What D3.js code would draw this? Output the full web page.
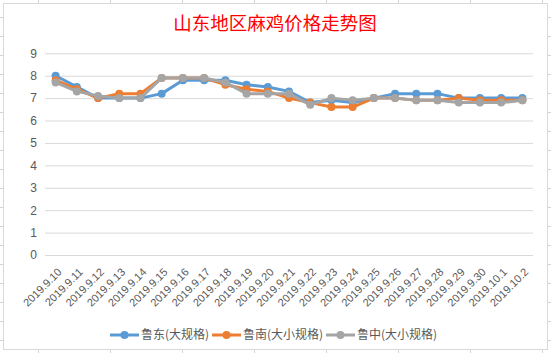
<!DOCTYPE html>
<html>
<head>
<meta charset="utf-8">
<script src="https://cdn.jsdelivr.net/npm/d3@7"></script>
<style>
  body { margin: 0; background: #fff; }
  svg { display: block; font-family: "Liberation Sans", Arial, sans-serif; }
</style>
</head>
<body>
<div id="chart"></div>
<script>
// chart data
const dates = ["2019.9.10","2019.9.11","2019.9.12","2019.9.13","2019.9.14","2019.9.15","2019.9.16",
  "2019.9.17","2019.9.18","2019.9.19","2019.9.20","2019.9.21","2019.9.22","2019.9.23","2019.9.24",
  "2019.9.25","2019.9.26","2019.9.27","2019.9.28","2019.9.29","2019.9.30","2019.10.1","2019.10.2"];
const ludong   = [8.0,7.5,7.0,7.0,7.0,7.2,7.8,7.8,7.8,7.6,7.5,7.3,6.8,6.9,6.8,7.0,7.2,7.2,7.2,7.0,7.0,7.0,7.0];
const lunan    = [7.8,7.4,7.0,7.2,7.2,7.9,7.9,7.9,7.6,7.4,7.3,7.0,6.8,6.6,6.6,7.0,7.0,6.9,6.9,7.0,6.9,6.9,6.9];
const luzhong  = [7.7,7.3,7.1,7.0,7.0,7.9,7.9,7.9,7.7,7.2,7.2,7.2,6.7,7.0,6.9,7.0,7.0,6.9,6.9,6.8,6.8,6.8,6.9];
const seriesNames = ["鲁东(大规格)", "鲁南(大小规格)", "鲁中(大小规格)"];
const seriesColors = ["#5B9BD5", "#ED7D31", "#A5A5A5"];
const yTicks = [0,1,2,3,4,5,6,7,8,9];
const title = "山东地区麻鸡价格走势图";

const W = 551, H = 353;
const svg = d3.select("#chart").append("svg").attr("width", W).attr("height", H);

// spreadsheet cells behind the chart object
const sheet = svg.append("g").attr("stroke", "#D4D4D4").attr("stroke-width", 1);
d3.range(38, W, 72).forEach(x => {
  sheet.append("line").attr("x1", x + 0.5).attr("x2", x + 0.5).attr("y1", 0).attr("y2", H);
});
d3.range(17, H, 19).forEach(y => {
  sheet.append("line").attr("x1", 0).attr("x2", W).attr("y1", y + 0.5).attr("y2", y + 0.5);
});

// chart area
svg.append("rect")
  .attr("x", 3.5).attr("y", 3.5)
  .attr("width", 544).attr("height", 346)
  .attr("fill", "#fff").attr("stroke", "#D9D9D9");

svg.append("text")
  .attr("x", 275).attr("y", 30)
  .attr("text-anchor", "middle")
  .attr("fill", "#FF0000")
  .style("font-family", "'Noto Sans CJK SC', sans-serif")
  .style("font-size", "18.5px")
  .text(title);

const plot = { left: 45, right: 533, top: 53.3, bottom: 255 };

const x = d3.scaleBand().domain(dates).range([plot.left, plot.right]);
const y = d3.scaleLinear().domain([0, 9]).range([plot.bottom, plot.top]);
const cx = d => x(d) + x.bandwidth() / 2;

// gridlines + y labels
const yAxis = d3.axisLeft(y).tickValues(yTicks).tickSize(-(plot.right - plot.left)).tickPadding(9);
const gy = svg.append("g").attr("transform", `translate(${plot.left},0)`).call(yAxis);
gy.select(".domain").remove();
gy.selectAll(".tick line").attr("stroke", "#D9D9D9");
gy.selectAll(".tick text")
  .attr("fill", "#595959")
  .style("font-size", "12px")
  .attr("x", -8);

// x labels (rotated)
const xAxis = d3.axisBottom(x).tickSize(0).tickPadding(0);
const gx = svg.append("g").attr("transform", `translate(0,${plot.bottom})`).call(xAxis);
gx.select(".domain").remove();
gx.selectAll(".tick text")
  .attr("fill", "#595959")
  .style("font-size", "11px")
  .attr("text-anchor", "end")
  .attr("dy", "0.35em")
  .attr("transform", "translate(4,15) rotate(-45)");

// lines
const allSeries = [ludong, lunan, luzhong];
const line = d3.line().x((v, i) => cx(dates[i])).y(v => y(v));

allSeries.forEach((vals, s) => {
  const g = svg.append("g");
  g.append("path")
    .datum(vals)
    .attr("d", line)
    .attr("fill", "none")
    .attr("stroke", seriesColors[s])
    .attr("stroke-width", 3)
    .attr("stroke-linejoin", "round");
  g.selectAll("circle")
    .data(vals)
    .enter()
    .append("circle")
    .attr("cx", (v, i) => cx(dates[i]))
    .attr("cy", v => y(v))
    .attr("r", 4)
    .attr("fill", seriesColors[s]);
});

// legend
const legendX = [110, 212, 326];
const legend = svg.append("g");
seriesNames.forEach((name, s) => {
  const lg = legend.append("g").attr("transform", `translate(${legendX[s]},335)`);
  lg.append("line").attr("x1", 0).attr("x2", 29).attr("y1", 0).attr("y2", 0)
    .attr("stroke", seriesColors[s]).attr("stroke-width", 3);
  lg.append("circle").attr("cx", 14.5).attr("cy", 0).attr("r", 4).attr("fill", seriesColors[s]);
  lg.append("text")
    .attr("x", 31).attr("y", 0).attr("dy", "0.35em")
    .attr("fill", "#595959")
    .style("font-family", "'Noto Sans CJK SC', sans-serif")
    .style("font-size", "12px")
    .text(name);
});
</script>
</body>
</html>
